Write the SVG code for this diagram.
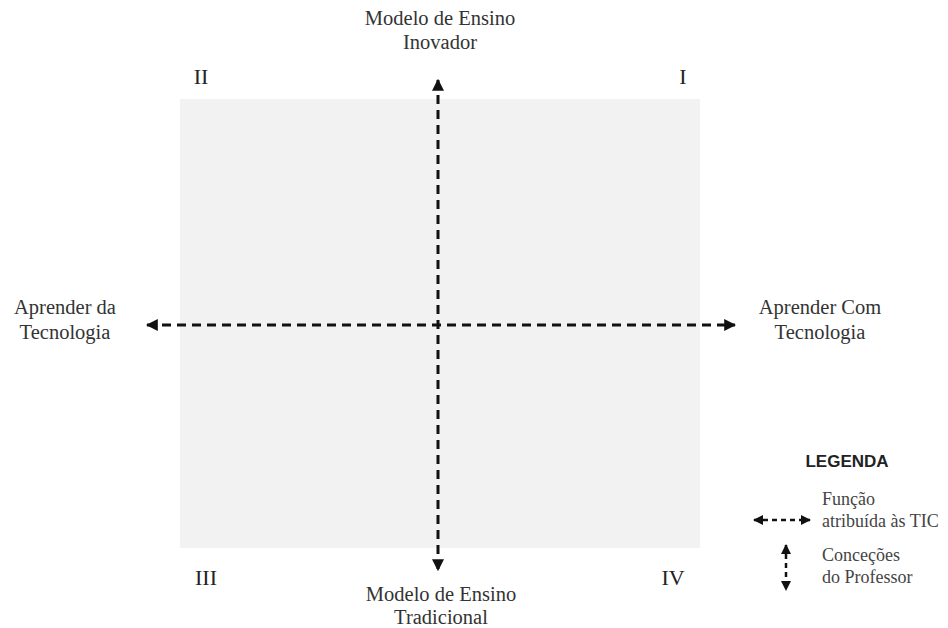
<svg xmlns="http://www.w3.org/2000/svg" width="948" height="628" viewBox="0 0 948 628">
<style>
.t{font-family:"Liberation Serif","DejaVu Serif",serif;font-size:20.5px;fill:#333;text-anchor:middle}
.n{font-family:"Liberation Serif","DejaVu Serif",serif;font-size:22px;fill:#222;text-anchor:middle}
.l{font-family:"Liberation Serif","DejaVu Serif",serif;font-size:18px;fill:#444}
.d{stroke:#111;stroke-width:3;stroke-dasharray:9 6;fill:none}
.ds{stroke:#111;stroke-width:2.5;stroke-dasharray:5 4;fill:none}
</style>
<defs>
<marker id="ah" viewBox="0 0 10 10" refX="9" refY="5" markerWidth="4" markerHeight="4" orient="auto-start-reverse" markerUnits="strokeWidth">
<path d="M0,0 L10,5 L0,10 z" fill="#111"/>
</marker>
</defs>
<rect width="948" height="628" fill="#fff"/>
<g id="quadrant-area"><rect x="180" y="99" width="520" height="449" fill="#f2f2f2"/></g>
<g id="connectors">
<line class="d" x1="438" y1="80" x2="438" y2="570" marker-start="url(#ah)" marker-end="url(#ah)"/>
<line class="d" x1="147" y1="325" x2="735" y2="325" marker-start="url(#ah)" marker-end="url(#ah)"/>
</g>
<g id="top-label"><text class="t" x="440" y="25">Modelo de Ensino</text><text class="t" x="440" y="49">Inovador</text></g>
<g id="bottom-label"><text class="t" x="441" y="601">Modelo de Ensino</text><text class="t" x="441" y="624">Tradicional</text></g>
<g id="left-label"><text class="t" x="65" y="314">Aprender da</text><text class="t" x="65" y="339">Tecnologia</text></g>
<g id="right-label"><text class="t" x="820" y="314">Aprender Com</text><text class="t" x="820" y="339">Tecnologia</text></g>
<g id="q2"><text class="n" x="201" y="84">II</text></g>
<g id="q1"><text class="n" x="683" y="84">I</text></g>
<g id="q3"><text class="n" x="206" y="585">III</text></g>
<g id="q4"><text class="n" x="673" y="585">IV</text></g>
<g id="legend">
<text x="847" y="467" text-anchor="middle" style="font-family:'Liberation Sans','DejaVu Sans',sans-serif;font-size:17px;font-weight:bold;fill:#222">LEGENDA</text>
<line class="ds" x1="754" y1="520" x2="810" y2="520" marker-start="url(#ah)" marker-end="url(#ah)"/>
<line class="ds" x1="786" y1="545" x2="786" y2="590" marker-start="url(#ah)" marker-end="url(#ah)"/>
<text class="l" x="822" y="505">Função</text>
<text class="l" x="822" y="527">atribuída às TIC</text>
<text class="l" x="822" y="561">Conceções</text>
<text class="l" x="822" y="583">do Professor</text>
</g>
</svg>
